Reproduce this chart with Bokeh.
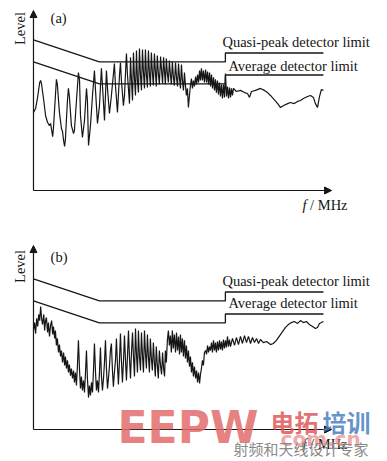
from math import pi
from bokeh.plotting import figure
from bokeh.layouts import column
from bokeh.models import Range1d, Label, Arrow, NormalHead
from bokeh.embed import file_html
from bokeh.resources import INLINE

# CISPR-style limits (frequency in MHz, level in dBuV)
limit_freq = [0.15, 0.5, 5.0, 5.0, 30.0]
qp_limit = [66, 56, 56, 60, 60]
avg_limit = [56, 46, 46, 50, 50]

# (a) measured spectrum
freq_a = [0.150, 0.156, 0.162, 0.168, 0.171, 0.174, 0.181, 0.187, 0.194, 0.201,
          0.205, 0.213, 0.216, 0.224, 0.228, 0.232, 0.241, 0.250, 0.255, 0.260,
          0.265, 0.269, 0.279, 0.284, 0.289, 0.300, 0.312, 0.317, 0.329, 0.341,
          0.348, 0.354, 0.367, 0.381, 0.395, 0.402, 0.410, 0.425, 0.441, 0.457,
          0.466, 0.483, 0.501, 0.519, 0.529, 0.549, 0.569, 0.580, 0.601, 0.623,
          0.658, 0.671, 0.696, 0.722, 0.735, 0.748, 0.776, 0.791, 0.820, 0.836,
          0.867, 0.883, 0.899, 0.916, 0.932, 0.950, 0.967, 0.985, 1.003, 1.021,
          1.040, 1.060, 1.079, 1.099, 1.119, 1.140, 1.160, 1.181, 1.203, 1.225,
          1.248, 1.270, 1.293, 1.317, 1.341, 1.367, 1.390, 1.415, 1.441, 1.468,
          1.496, 1.530, 1.558, 1.587, 1.616, 1.646, 1.670, 1.700, 1.732, 1.764,
          1.797, 1.830, 1.863, 1.898, 1.932, 1.969, 2.010, 2.046, 2.084, 2.123,
          2.163, 2.200, 2.240, 2.281, 2.323, 2.367, 2.410, 2.453, 2.499, 2.545,
          2.593, 2.640, 2.688, 2.738, 2.788, 2.841, 2.900, 2.952, 3.007, 3.062,
          3.120, 3.170, 3.227, 3.287, 3.347, 3.411, 3.480, 3.543, 3.608, 3.675,
          3.744, 3.810, 3.879, 3.951, 4.023, 4.099, 4.170, 4.245, 4.324, 4.404,
          4.487, 4.570, 4.652, 4.739, 4.826, 4.917, 5.010, 5.100, 5.195, 5.291,
          5.391, 5.490, 5.589, 5.693, 5.797, 6.118, 6.590, 7.090, 7.490, 7.770,
          8.050, 8.670, 9.490, 10.20, 10.80, 11.40, 12.00, 13.00, 13.70, 14.50,
          15.60, 16.40, 17.60, 18.70, 19.70, 20.80, 22.40, 23.70, 25.00, 25.90,
          26.90, 27.90, 28.90, 30.00]
level_a = [33.0, 34.8, 40.2, 46.6, 47.5, 45.7, 38.4, 31.6, 28.4, 27.0,
           28.0, 22.0, 25.7, 40.7, 48.0, 45.7, 33.0, 25.7, 24.3, 20.2,
           17.5, 21.1, 38.4, 43.9, 40.2, 27.0, 23.4, 24.8, 38.4, 51.1,
           47.5, 31.6, 21.6, 29.3, 43.9, 38.4, 18.0, 27.0, 40.7, 52.0,
           43.0, 28.0, 36.1, 53.0, 45.2, 29.3, 52.0, 43.9, 32.5, 40.7,
           55.2, 45.2, 33.0, 49.8, 55.7, 47.5, 36.1, 40.7, 59.8, 49.8,
           37.0, 58.0, 47.5, 38.4, 60.2, 48.4, 40.7, 61.1, 47.5, 42.0,
           62.0, 49.8, 43.0, 61.6, 51.1, 43.9, 61.6, 50.2, 44.3, 61.1,
           50.7, 44.8, 60.2, 51.1, 45.2, 59.8, 52.0, 44.8, 58.9, 51.1,
           45.7, 58.4, 52.0, 46.1, 58.0, 51.1, 45.7, 57.5, 50.7, 46.6,
           56.6, 50.2, 45.7, 56.1, 49.3, 45.2, 55.7, 48.9, 44.8, 55.2,
           48.4, 43.9, 54.8, 47.5, 43.0, 51.1, 45.2, 40.7, 43.9, 35.2,
           40.7, 45.2, 48.4, 43.9, 47.5, 44.8, 49.3, 45.7, 50.2, 46.6,
           52.0, 47.5, 53.0, 47.5, 52.0, 46.6, 52.5, 46.6, 51.6, 45.7,
           51.1, 44.8, 50.2, 43.9, 48.9, 43.0, 48.0, 42.0, 47.5, 41.1,
           46.6, 40.2, 45.7, 39.3, 45.7, 39.8, 50.7, 40.2, 44.8, 39.3,
           44.3, 39.8, 43.9, 40.7, 43.9, 42.5, 43.0, 42.0, 41.6, 39.8,
           42.5, 43.0, 43.9, 43.0, 42.0, 40.7, 39.3, 37.0, 35.2, 36.1,
           37.0, 37.5, 37.0, 38.0, 38.4, 39.3, 40.2, 40.7, 39.8, 37.0,
           35.2, 40.2, 43.4, 43.0]

# (b) measured spectrum
freq_b = [0.150, 0.153, 0.156, 0.159, 0.162, 0.165, 0.168, 0.171, 0.174, 0.177,
          0.181, 0.184, 0.187, 0.190, 0.194, 0.197, 0.201, 0.205, 0.209, 0.213,
          0.216, 0.221, 0.224, 0.228, 0.232, 0.237, 0.241, 0.246, 0.250, 0.255,
          0.260, 0.265, 0.269, 0.274, 0.279, 0.284, 0.289, 0.295, 0.300, 0.306,
          0.312, 0.317, 0.323, 0.329, 0.335, 0.341, 0.348, 0.354, 0.360, 0.367,
          0.374, 0.381, 0.388, 0.395, 0.402, 0.410, 0.417, 0.425, 0.433, 0.441,
          0.449, 0.457, 0.466, 0.474, 0.483, 0.492, 0.501, 0.510, 0.519, 0.529,
          0.539, 0.549, 0.559, 0.569, 0.580, 0.590, 0.601, 0.612, 0.623, 0.635,
          0.646, 0.658, 0.671, 0.683, 0.696, 0.708, 0.722, 0.735, 0.748, 0.762,
          0.776, 0.791, 0.806, 0.820, 0.836, 0.851, 0.867, 0.883, 0.899, 0.916,
          0.932, 0.950, 0.967, 0.985, 1.003, 1.021, 1.040, 1.060, 1.079, 1.099,
          1.119, 1.140, 1.160, 1.181, 1.203, 1.225, 1.248, 1.270, 1.293, 1.317,
          1.341, 1.367, 1.390, 1.415, 1.441, 1.468, 1.496, 1.530, 1.558, 1.587,
          1.616, 1.646, 1.670, 1.700, 1.732, 1.764, 1.797, 1.830, 1.863, 1.898,
          1.932, 1.969, 2.010, 2.046, 2.084, 2.123, 2.163, 2.200, 2.240, 2.281,
          2.323, 2.367, 2.410, 2.453, 2.499, 2.545, 2.593, 2.640, 2.688, 2.738,
          2.788, 2.841, 2.900, 2.952, 3.007, 3.062, 3.120, 3.170, 3.227, 3.287,
          3.347, 3.411, 3.480, 3.543, 3.608, 3.675, 3.744, 3.810, 3.879, 3.951,
          4.023, 4.099, 4.170, 4.245, 4.324, 4.404, 4.487, 4.570, 4.652, 4.739,
          4.826, 4.917, 5.010, 5.100, 5.195, 5.291, 5.391, 5.490, 5.693, 5.907,
          6.118, 6.350, 6.590, 6.830, 7.090, 7.350, 7.620, 7.910, 8.200, 8.510,
          8.830, 9.160, 9.490, 10.00, 10.60, 11.40, 12.00, 12.70, 13.50, 14.20,
          15.00, 15.80, 16.70, 17.60, 18.70, 19.70, 20.80, 22.00, 23.20, 24.60,
          25.90, 26.90, 27.90, 28.90, 30.00]
level_b = [42.5, 46.1, 41.1, 48.0, 44.3, 49.8, 47.0, 53.4, 48.0, 45.2,
           49.8, 42.5, 47.0, 48.4, 41.6, 46.1, 39.8, 44.8, 47.0, 40.7,
           44.3, 38.9, 42.5, 35.7, 38.9, 32.5, 36.1, 30.7, 33.4, 28.0,
           32.5, 26.6, 30.7, 25.2, 28.9, 23.4, 27.0, 22.0, 25.2, 20.7,
           24.3, 18.9, 23.4, 17.5, 26.6, 38.0, 24.3, 16.1, 21.6, 15.2,
           19.8, 14.3, 23.4, 33.4, 20.7, 12.0, 17.5, 13.0, 18.9, 14.3,
           24.3, 36.6, 23.4, 15.2, 19.8, 14.3, 23.4, 34.8, 22.0, 15.2,
           20.7, 28.0, 38.0, 25.2, 16.1, 20.7, 26.1, 33.4, 36.6, 24.3,
           17.0, 23.4, 28.9, 38.9, 26.6, 18.0, 28.9, 41.1, 28.9, 18.9,
           28.0, 40.2, 28.9, 19.8, 31.1, 42.5, 29.8, 20.7, 32.5, 41.6,
           30.7, 21.6, 43.4, 31.6, 23.4, 42.5, 30.7, 24.3, 41.6, 31.1,
           23.4, 42.5, 32.5, 25.2, 40.7, 30.7, 23.4, 38.9, 29.8, 24.3,
           37.0, 28.0, 21.6, 35.2, 27.0, 20.7, 33.4, 26.1, 22.5, 32.5,
           25.2, 21.6, 33.4, 28.0, 38.0, 42.5, 35.7, 40.2, 32.5, 42.5,
           34.3, 40.7, 32.5, 41.6, 33.4, 39.8, 31.6, 40.7, 32.5, 38.9,
           30.7, 38.0, 29.8, 35.7, 28.0, 33.4, 26.1, 30.7, 23.4, 28.0,
           21.6, 26.1, 20.7, 24.3, 18.9, 23.4, 18.4, 22.5, 25.2, 28.9,
           26.6, 32.5, 33.4, 31.6, 35.7, 32.5, 35.2, 33.4, 37.0, 32.5,
           38.0, 33.4, 37.0, 32.5, 37.5, 33.4, 38.0, 33.9, 37.5, 33.4,
           38.4, 34.3, 38.0, 34.8, 39.8, 35.2, 38.4, 35.2, 38.9, 35.7,
           39.3, 36.1, 39.8, 36.6, 40.2, 37.0, 39.8, 36.6, 39.3, 37.0,
           38.9, 36.6, 38.4, 37.0, 37.5, 36.1, 36.6, 38.0, 40.2, 42.0,
           43.9, 45.2, 46.1, 46.6, 45.7, 47.0, 46.1, 46.6, 45.2, 44.3,
           43.4, 43.9, 45.7, 46.1, 46.6]

panel_tags = ["(a)", "(b)"]
qp_text = "Quasi-peak detector limit"
avg_text = "Average detector limit"

SERIF = "Liberation Serif"
INK = "#161616"


def make_panel(tag, freq, level, height, y_lo, y_hi, axis_top, lvl_y, qp_y, avg_y):
    p = figure(width=387, height=height, x_axis_type="log",
               x_range=Range1d(0.0821, 96.7), y_range=Range1d(y_lo, y_hi),
               x_axis_location=None, y_axis_location=None,
               toolbar_location=None, output_backend="svg", min_border=0,
               background_fill_color="white", border_fill_color="white")
    p.outline_line_color = None
    p.grid.visible = False

    # axes with arrowheads
    p.add_layout(Arrow(end=NormalHead(size=7, fill_color=INK, line_color=INK),
                       x_start=0.15, y_start=-2.5, x_end=34.8, y_end=-2.5,
                       line_color=INK, line_width=1.2))
    p.add_layout(Arrow(end=NormalHead(size=7, fill_color=INK, line_color=INK),
                       x_start=0.15, y_start=-2.5, x_end=0.15, y_end=axis_top,
                       line_color=INK, line_width=1.2))

    p.line(limit_freq, qp_limit, line_color=INK, line_width=1.3)
    p.line(limit_freq, avg_limit, line_color=INK, line_width=1.3)
    p.line(freq, level, line_color=INK, line_width=1.2)

    p.add_layout(Label(x=0.118, y=lvl_y, text="Level", angle=pi / 2,
                       text_align="center", text_baseline="middle",
                       text_font=SERIF, text_font_size="14.5px", text_color=INK))
    p.add_layout(Label(x=0.205, y=75.7, text=tag, text_align="left",
                       text_baseline="middle", text_font=SERIF,
                       text_font_size="14.5px", text_color=INK))
    p.add_layout(Label(x=4.74, y=qp_y, text=qp_text, text_align="left",
                       text_baseline="middle", text_font=SERIF,
                       text_font_size="14.5px", text_color=INK))
    p.add_layout(Label(x=5.29, y=avg_y, text=avg_text, text_align="left",
                       text_baseline="middle", text_font=SERIF,
                       text_font_size="14.5px", text_color=INK))
    p.add_layout(Label(x=20.5, y=-9.3, text="f", text_align="left",
                       text_baseline="middle", text_font=SERIF,
                       text_font_style="italic",
                       text_font_size="14.5px", text_color=INK))
    p.add_layout(Label(x=23.5, y=-9.3, text="/ MHz", text_align="left",
                       text_baseline="middle", text_font=SERIF,
                       text_font_size="14.5px", text_color=INK))
    return p


pa = make_panel(panel_tags[0], freq_a, level_a, 230, -20.68, 83.86, 79.3, 71.1, 64.8, 54.3)
pb = make_panel(panel_tags[1], freq_b, level_b, 231, -17.05, 87.95, 81.1, 71.6, 65.2, 54.8)

# watermark in the lower panel
pb.add_layout(Label(x=0.697, y=-1.6, text="EEPW", text_align="left",
                    text_baseline="middle", text_font="DejaVu Sans",
                    text_font_style="bold", text_font_size="44px",
                    text_color="#e36b6b", text_alpha=0.85))
pb.add_layout(Label(x=11.4, y=1.1, text="电拓", text_align="left",
                    text_baseline="middle", text_font="Noto Sans CJK SC",
                    text_font_style="bold", text_font_size="24px",
                    text_color="#e0585a", text_alpha=0.85))
pb.add_layout(Label(x=29.5, y=1.1, text="培训", text_align="left",
                    text_baseline="middle", text_font="Noto Sans CJK SC",
                    text_font_style="bold", text_font_size="24px",
                    text_color="#4a7fc0", text_alpha=0.85))
pb.add_layout(Label(x=13.7, y=-6.6, text="com.cn", text_align="left",
                    text_baseline="middle", text_font="DejaVu Sans",
                    text_font_style="bold", text_font_size="20px",
                    text_color="#e98d8d", text_alpha=0.75))
pb.add_layout(Label(x=5.8, y=-11.1, text="射频和天线设计专家", text_align="left",
                    text_baseline="middle", text_font="Noto Sans CJK SC",
                    text_font_size="15px", text_color="#8a8a8a"))

layout = column(pa, pb, spacing=0)
open("out.html", "w").write(file_html(layout, INLINE))
